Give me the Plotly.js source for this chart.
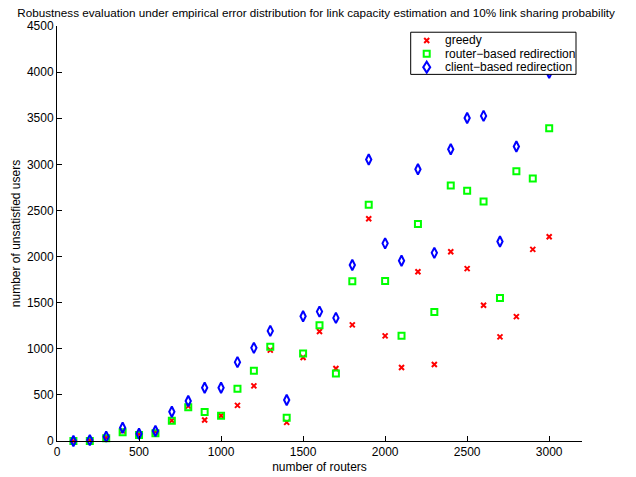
<!DOCTYPE html>
<html>
<head>
<meta charset="utf-8">
<script src="https://cdn.plot.ly/plotly-3.0.1.min.js"></script>
<style>
  html, body { margin: 0; padding: 0; background: #fff; }
  #chart { width: 636px; height: 477px; }
</style>
</head>
<body>
<div id="chart"></div>
<script>
// Number of routers in each simulated topology
const routers = [100, 200, 300, 400, 500, 600, 700, 800, 900, 1000,
                 1100, 1200, 1300, 1400, 1500, 1600, 1700, 1800, 1900, 2000,
                 2100, 2200, 2300, 2400, 2500, 2600, 2700, 2800, 2900, 3000];

// Unsatisfied users for each strategy
const greedy = [0, 5, 37, 110, 75, 100, 221, 380, 227, 274,
                386, 598, 985, 202, 906, 1187, 787, 1259, 2410, 1140,
                797, 1836, 830, 2053, 1869, 1472, 1129, 1349, 2078, 2215];

const routerBased = [0, 0, 29, 94, 65, 83, 220, 365, 314, 274,
                     566, 761, 1021, 252, 949, 1255, 733, 1732, 2562, 1735,
                     1140, 2352, 1400, 2771, 2713, 2597, 1551, 2925, 2846, 3391];

const clientBased = [0, 10, 47, 144, 79, 108, 317, 433, 577, 577,
                     855, 1010, 1194, 444, 1353, 1403, 1335, 1908, 3052, 2143,
                     1955, 2947, 2040, 3163, 3503, 3525, 2164, 3193, 4200, 3993];

const seriesNames = ['greedy', 'router\u2212based redirection', 'client\u2212based redirection'];
const xTicks = [0, 500, 1000, 1500, 2000, 2500, 3000];
const yTicks = [0, 500, 1000, 1500, 2000, 2500, 3000, 3500, 4000, 4500];

const FONT = '"Liberation Sans", Arial, Helvetica, sans-serif';

const traces = [
  {
    x: routers, y: greedy, name: seriesNames[0], type: 'scatter', mode: 'markers',
    cliponaxis: false,
    marker: { symbol: 'x-thin-open', size: 5, color: '#ff0000', line: { color: '#ff0000', width: 2 } }
  },
  {
    x: routers, y: routerBased, name: seriesNames[1], type: 'scatter', mode: 'markers',
    cliponaxis: false,
    marker: { symbol: 'square-open', size: 6, color: '#00ff00', line: { color: '#00ff00', width: 2 } }
  },
  {
    x: routers, y: clientBased, name: seriesNames[2], type: 'scatter', mode: 'markers',
    cliponaxis: false,
    marker: { symbol: 'diamond-tall-open', size: 7.5, color: '#0000ff', line: { color: '#0000ff', width: 2 } }
  }
];

// Boxed key in the upper-right corner of the axes
const keyX = 0.7042, textX = 0.7358;
const keyRows = [0.9651, 0.9331, 0.9009];
const keyPaths = [
  'M-2.5,-2.5L2.5,2.5M-2.5,2.5L2.5,-2.5',
  'M-3,-3H3V3H-3Z',
  'M0,-5.5L3.5,0L0,5.5L-3.5,0Z'
];
const keyColors = ['#ff0000', '#00ff00', '#0000ff'];

const shapes = [{
  type: 'rect', xref: 'paper', yref: 'paper',
  x0: 0.6737, x1: 0.9886, y0: 0.8834, y1: 0.985,
  line: { color: '#000', width: 1 }, fillcolor: '#fff', layer: 'above'
}];
const annotations = [];
keyRows.forEach((yy, i) => {
  shapes.push({
    type: 'path', xref: 'paper', yref: 'paper',
    xsizemode: 'pixel', ysizemode: 'pixel', xanchor: keyX, yanchor: yy,
    path: keyPaths[i], line: { color: keyColors[i], width: 2 }, layer: 'above'
  });
  annotations.push({
    xref: 'paper', yref: 'paper', x: textX, y: yy, xanchor: 'left', yanchor: 'middle',
    text: seriesNames[i], showarrow: false, font: { family: FONT, size: 12, color: '#000' }
  });
});

const layout = {
  width: 636, height: 477,
  margin: { l: 57, r: 54, t: 26, b: 36 },
  paper_bgcolor: '#fff', plot_bgcolor: '#fff',
  showlegend: false,
  font: { family: FONT, size: 12, color: '#000' },
  title: {
    text: 'Robustness evaluation under empirical error distribution for link capacity estimation and 10% link sharing probability',
    font: { family: FONT, size: 11.7, color: '#000' },
    xref: 'container', x: 0.497, xanchor: 'center',
    yref: 'container', y: 0.973, yanchor: 'middle'
  },
  xaxis: {
    range: [0, 3200], tickvals: xTicks, ticktext: xTicks.map(String),
    ticks: 'inside', ticklen: 5, tickcolor: '#000', tickwidth: 1,
    showline: true, linecolor: '#000', linewidth: 1, mirror: false,
    showgrid: false, zeroline: false,
    tickfont: { family: FONT, size: 12, color: '#000' },
    title: { text: 'number of routers', standoff: 4, font: { family: FONT, size: 12, color: '#000' } }
  },
  yaxis: {
    range: [0, 4500], tickvals: yTicks, ticktext: yTicks.map(String),
    ticks: 'inside', ticklen: 5, tickcolor: '#000', tickwidth: 1,
    showline: true, linecolor: '#000', linewidth: 1, mirror: false,
    showgrid: false, zeroline: false,
    tickfont: { family: FONT, size: 12, color: '#000' },
    title: { text: 'number of unsatisfied users', standoff: 3, font: { family: FONT, size: 12, color: '#000' } }
  },
  shapes: shapes,
  annotations: annotations
};

Plotly.newPlot('chart', traces, layout, { staticPlot: true, displayModeBar: false });
</script>
</body>
</html>
